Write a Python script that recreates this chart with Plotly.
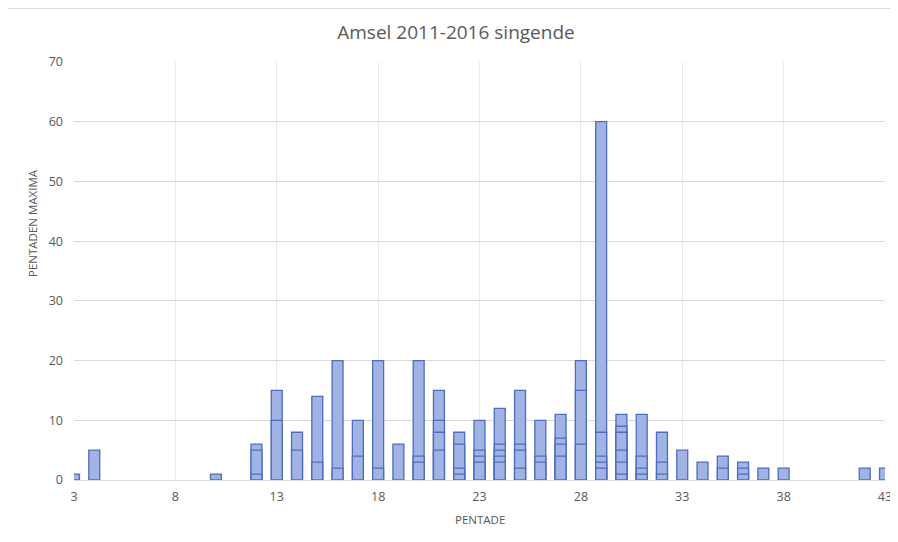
import plotly.graph_objects as go

# Pentade numbers with observations
pentade = [3, 4, 10, 12, 13, 14, 15, 16, 17, 18, 19, 20, 21, 22, 23, 24,
           25, 26, 27, 28, 29, 30, 31, 32, 33, 34, 35, 36, 37, 38, 42, 43]

# Overlaid yearly maxima per pentade, ranked from highest to lowest (2011-2016)
rank1 = [1, 5, 1, 6, 15, 8, 14, 20, 10, 20, 6, 20, 15, 8, 10, 12,
         15, 10, 11, 20, 60, 11, 11, 8, 5, 3, 4, 3, 2, 2, 2, 2]
rank2 = [None, None, None, 5, 10, 5, 3, 2, 4, 2, None, 4, 10, 6, 5, 6,
         6, 4, 7, 15, 8, 9, 4, 3, None, None, 2, 2, None, None, None, None]
rank3 = [None, None, None, 1, None, None, None, None, None, None, None, 3, 8, 2, 4, 5,
         5, 3, 6, 6, 4, 8, 2, 1, None, None, None, 1, None, None, None, None]
rank4 = [None, None, None, None, None, None, None, None, None, None, None, None, 5, 1, 3, 4,
         2, None, 4, None, 3, 5, 1, None, None, None, None, None, None, None, None, None]
rank5 = [None, None, None, None, None, None, None, None, None, None, None, None, None, None, None, 3,
         None, None, None, None, 2, 3, None, None, None, None, None, None, None, None, None, None]
rank6 = [None, None, None, None, None, None, None, None, None, None, None, None, None, None, None, None,
         None, None, None, None, None, 1, None, None, None, None, None, None, None, None, None, None]

x_ticks = [3, 8, 13, 18, 23, 28, 33, 38, 43]
y_ticks = [0, 10, 20, 30, 40, 50, 60, 70]

FILL = "#A0B3E4"
EDGE = "#4D6EBB"
GRID = "#D9D9D9"
VGRID = "#EAEAEA"
TXT = "#595959"
FONT = "Open Sans"

W, H = 890, 534
ML, MR, MT, MB = 66, 13, 54, 62
PW, PH = W - ML - MR, H - MT - MB

fig = go.Figure()
for layer in [rank1, rank2, rank3, rank4, rank5, rank6]:
    fig.add_trace(go.Bar(
        x=pentade, y=layer, width=0.54,
        marker=dict(color=FILL, line=dict(color=EDGE, width=1.3)),
        showlegend=False, hoverinfo="x+y",
    ))

fig.update_layout(
    width=W, height=H,
    barmode="overlay",
    paper_bgcolor="white", plot_bgcolor="white",
    margin=dict(l=ML, r=MR, t=MT, b=MB, autoexpand=False),
    font=dict(family=FONT, color=TXT, size=12),
    title=dict(text="Amsel 2011-2016 singende", x=448 / W, xanchor="center",
               y=1 - 24 / H, yanchor="middle", xref="container", yref="container",
               font=dict(family=FONT, size=19, color=TXT)),
    xaxis=dict(range=[3, 43], tickmode="array", tickvals=x_ticks,
               ticktext=[str(v) for v in x_ticks],
               showgrid=True, gridcolor=VGRID, gridwidth=1,
               zeroline=False, showline=False, ticks="",
               automargin=False, ticklabeloverflow="allow",
               ticklabelstandoff=7,
               tickfont=dict(size=12.5, color=TXT)),
    yaxis=dict(range=[0, 70], tickmode="array", tickvals=y_ticks,
               showgrid=True, gridcolor=GRID, gridwidth=1,
               zeroline=True, zerolinecolor=GRID, zerolinewidth=1.3,
               showline=False, ticks="", ticklabelstandoff=10,
               automargin=False,
               tickfont=dict(size=12.5, color=TXT)),
    annotations=[
        dict(text="PENTADEN MAXIMA", x=-41 / PW, y=(PH - 161) / PH,
             xanchor="center", yanchor="middle",
             xref="paper", yref="paper", showarrow=False, textangle=-90,
             font=dict(family=FONT, size=11.5, color=TXT)),
        dict(text="PENTADE", x=0.5, y=-39 / PH,
             xanchor="center", yanchor="middle",
             xref="paper", yref="paper", showarrow=False,
             font=dict(family=FONT, size=11.5, color=TXT)),
    ],
    shapes=[
        dict(type="rect", xref="paper", yref="paper",
             x0=-66.5 / PW, x1=(W + 10 - ML) / PW,
             y0=-(MB + 10) / PH, y1=1 + (MT - 0.5) / PH,
             line=dict(color=GRID, width=1), fillcolor="rgba(0,0,0,0)", layer="below"),
    ],
)

fig.write_html("out.html")
